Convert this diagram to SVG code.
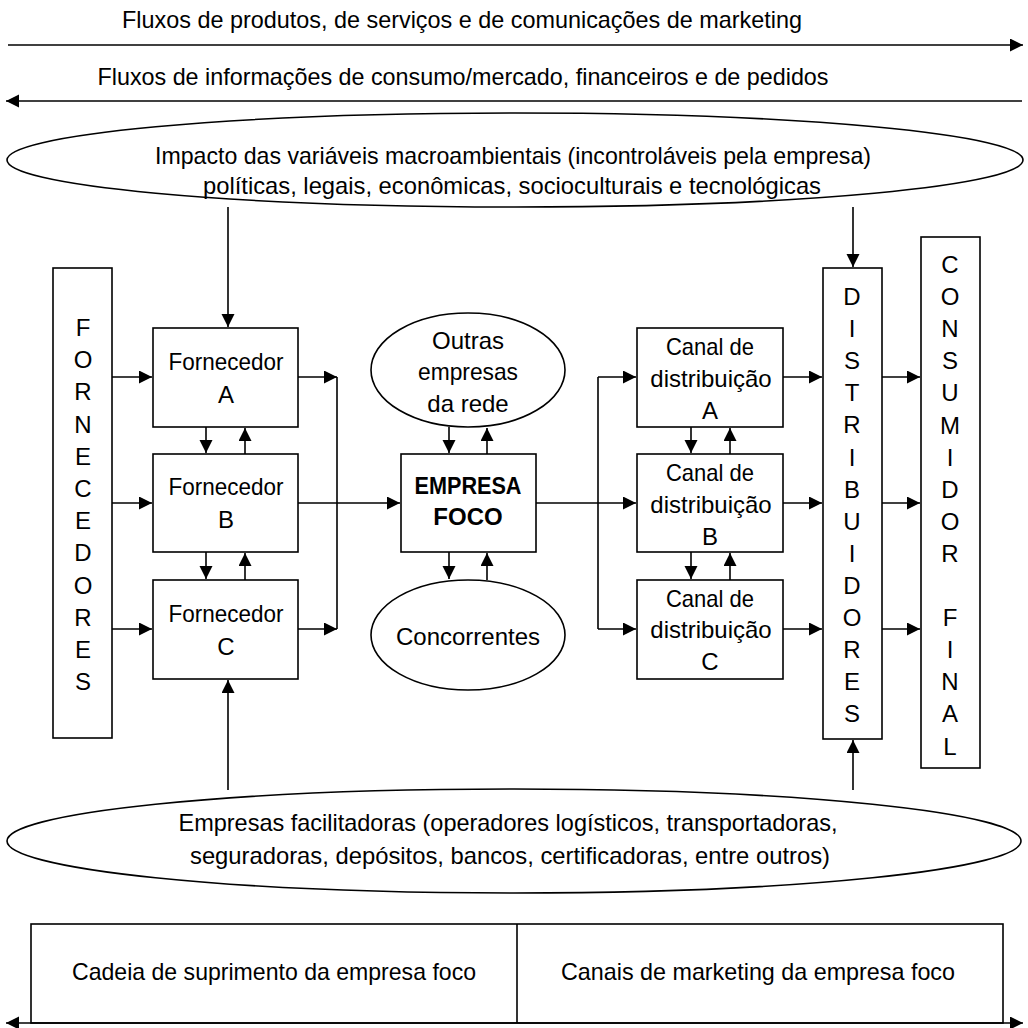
<svg xmlns="http://www.w3.org/2000/svg" width="1028" height="1028" viewBox="0 0 1028 1028">
  <style>
    text { font-family: "Liberation Sans", Arial, sans-serif; font-size: 24px; fill: #000; text-anchor: middle; }
    .bold { font-weight: bold; }
    .shape { fill: #fff; stroke: #000; stroke-width: 1.6; }
    .link { fill: none; stroke: #000; stroke-width: 1.6; }
    .arrow { fill: none; stroke: #000; stroke-width: 1.6; marker-end: url(#head); }
    .both { fill: none; stroke: #000; stroke-width: 1.6; marker-start: url(#head); marker-end: url(#head); }
  </style>
  <defs>
    <marker id="head" markerUnits="userSpaceOnUse" markerWidth="14" markerHeight="14" refX="13" refY="6.5" orient="auto-start-reverse">
      <path d="M0,0 L13,6.5 L0,13 Z" fill="#000"/>
    </marker>
  </defs>
  <rect width="1028" height="1028" fill="#fff"/>

  <!-- flow labels -->
  <g id="flow-products">
    <text x="462" y="28" textLength="680" lengthAdjust="spacingAndGlyphs">Fluxos de produtos, de serviços e de comunicações de marketing</text>
  </g>
  <g id="flow-information">
    <text x="463" y="85" textLength="731" lengthAdjust="spacingAndGlyphs">Fluxos de informações de consumo/mercado, financeiros e de pedidos</text>
  </g>

  <!-- macro-environment -->
  <g id="macro">
    <ellipse class="shape" cx="515" cy="160" rx="508" ry="47"/>
    <text x="513" y="164" textLength="716" lengthAdjust="spacingAndGlyphs">Impacto das variáveis macroambientais (incontroláveis pela empresa)</text>
    <text x="512" y="194" textLength="618" lengthAdjust="spacingAndGlyphs">políticas, legais, econômicas, socioculturais e tecnológicas</text>
  </g>

  <!-- suppliers column -->
  <g id="fornecedores">
    <rect class="shape" x="53" y="268" width="59" height="470"/>
    <text x="83" y="336">F<tspan x="83" dy="32.2">O</tspan><tspan x="83" dy="32.2">R</tspan><tspan x="83" dy="32.2">N</tspan><tspan x="83" dy="32.2">E</tspan><tspan x="83" dy="32.2">C</tspan><tspan x="83" dy="32.2">E</tspan><tspan x="83" dy="32.2">D</tspan><tspan x="83" dy="32.2">O</tspan><tspan x="83" dy="32.2">R</tspan><tspan x="83" dy="32.2">E</tspan><tspan x="83" dy="32.2">S</tspan></text>
  </g>

  <g id="fornecedor-a">
    <rect class="shape" x="153" y="328" width="145" height="99"/>
    <text x="226" y="370" textLength="115" lengthAdjust="spacingAndGlyphs">Fornecedor</text>
    <text x="226" y="403">A</text>
  </g>
  <g id="fornecedor-b">
    <rect class="shape" x="153" y="454" width="145" height="98"/>
    <text x="226" y="495" textLength="115" lengthAdjust="spacingAndGlyphs">Fornecedor</text>
    <text x="226" y="528">B</text>
  </g>
  <g id="fornecedor-c">
    <rect class="shape" x="153" y="580" width="145" height="99"/>
    <text x="226" y="622" textLength="115" lengthAdjust="spacingAndGlyphs">Fornecedor</text>
    <text x="226" y="655">C</text>
  </g>

  <!-- focal company and its neighbours -->
  <g id="outras-empresas">
    <ellipse class="shape" cx="468" cy="370" rx="97" ry="57"/>
    <text x="468" y="349">Outras</text>
    <text x="468" y="380" textLength="100" lengthAdjust="spacingAndGlyphs">empresas</text>
    <text x="468" y="412">da rede</text>
  </g>
  <g id="empresa-foco">
    <rect class="shape" x="401" y="454" width="135" height="98"/>
    <text class="bold" x="468" y="494" textLength="107" lengthAdjust="spacingAndGlyphs">EMPRESA</text>
    <text class="bold" x="468" y="525">FOCO</text>
  </g>
  <g id="concorrentes">
    <ellipse class="shape" cx="468" cy="635" rx="97" ry="55"/>
    <text x="468" y="645">Concorrentes</text>
  </g>

  <!-- distribution channels -->
  <g id="canal-a">
    <rect class="shape" x="637" y="328" width="146" height="99"/>
    <text x="710" y="355" textLength="88" lengthAdjust="spacingAndGlyphs">Canal de</text>
    <text x="711" y="387">distribuição</text>
    <text x="710" y="419">A</text>
  </g>
  <g id="canal-b">
    <rect class="shape" x="637" y="454" width="146" height="98"/>
    <text x="710" y="481" textLength="88" lengthAdjust="spacingAndGlyphs">Canal de</text>
    <text x="711" y="513">distribuição</text>
    <text x="710" y="545">B</text>
  </g>
  <g id="canal-c">
    <rect class="shape" x="637" y="580" width="146" height="99"/>
    <text x="710" y="607" textLength="88" lengthAdjust="spacingAndGlyphs">Canal de</text>
    <text x="711" y="638">distribuição</text>
    <text x="710" y="670">C</text>
  </g>

  <g id="distribuidores">
    <rect class="shape" x="823" y="268" width="59" height="471"/>
    <text x="852" y="305">D<tspan x="852" dy="32.1">I</tspan><tspan x="852" dy="32.1">S</tspan><tspan x="852" dy="32.1">T</tspan><tspan x="852" dy="32.1">R</tspan><tspan x="852" dy="32.1">I</tspan><tspan x="852" dy="32.1">B</tspan><tspan x="852" dy="32.1">U</tspan><tspan x="852" dy="32.1">I</tspan><tspan x="852" dy="32.1">D</tspan><tspan x="852" dy="32.1">O</tspan><tspan x="852" dy="32.1">R</tspan><tspan x="852" dy="32.1">E</tspan><tspan x="852" dy="32.1">S</tspan></text>
  </g>

  <g id="consumidor-final">
    <rect class="shape" x="921" y="237" width="59" height="531"/>
    <text x="950" y="273">C<tspan x="950" dy="32.1">O</tspan><tspan x="950" dy="32.1">N</tspan><tspan x="950" dy="32.1">S</tspan><tspan x="950" dy="32.1">U</tspan><tspan x="950" dy="32.1">M</tspan><tspan x="950" dy="32.1">I</tspan><tspan x="950" dy="32.1">D</tspan><tspan x="950" dy="32.1">O</tspan><tspan x="950" dy="32.1">R</tspan><tspan x="950" dy="64.2">F</tspan><tspan x="950" dy="32.1">I</tspan><tspan x="950" dy="32.1">N</tspan><tspan x="950" dy="32.1">A</tspan><tspan x="950" dy="32.1">L</tspan></text>
  </g>

  <!-- facilitating companies -->
  <g id="facilitadoras">
    <ellipse class="shape" cx="514" cy="841" rx="507" ry="52"/>
    <text x="508" y="831" textLength="659" lengthAdjust="spacingAndGlyphs">Empresas facilitadoras (operadores logísticos, transportadoras,</text>
    <text x="510" y="864" textLength="640" lengthAdjust="spacingAndGlyphs">seguradoras, depósitos, bancos, certificadoras, entre outros)</text>
  </g>

  <!-- scope bar -->
  <g id="escopo">
    <rect class="shape" x="31" y="924" width="972" height="99"/>
    <line class="link" x1="517" y1="924" x2="517" y2="1023"/>
    <text x="274" y="980" textLength="404" lengthAdjust="spacingAndGlyphs">Cadeia de suprimento da empresa foco</text>
    <text x="758" y="980" textLength="394" lengthAdjust="spacingAndGlyphs">Canais de marketing da empresa foco</text>
  </g>

  <g id="connectors">
    <line class="arrow" x1="8" y1="45" x2="1023" y2="45"/>
    <line class="arrow" x1="1022" y1="101" x2="6" y2="101"/>
    <line class="both" x1="6" y1="1023" x2="1023" y2="1023"/>

    <line class="arrow" x1="228" y1="207" x2="228" y2="327"/>
    <line class="arrow" x1="853" y1="207" x2="853" y2="267"/>
    <line class="arrow" x1="228" y1="790" x2="228" y2="680"/>
    <line class="arrow" x1="853" y1="790" x2="853" y2="740"/>

    <line class="arrow" x1="112" y1="377" x2="152" y2="377"/>
    <line class="arrow" x1="112" y1="503" x2="152" y2="503"/>
    <line class="arrow" x1="112" y1="629" x2="152" y2="629"/>

    <line class="arrow" x1="206" y1="427" x2="206" y2="453"/>
    <line class="arrow" x1="245" y1="454" x2="245" y2="428"/>
    <line class="arrow" x1="206" y1="552" x2="206" y2="579"/>
    <line class="arrow" x1="245" y1="580" x2="245" y2="553"/>

    <line class="arrow" x1="298" y1="377" x2="337" y2="377"/>
    <line class="arrow" x1="298" y1="629" x2="337" y2="629"/>
    <line class="link" x1="337" y1="377" x2="337" y2="629"/>
    <line class="arrow" x1="298" y1="503" x2="400" y2="503"/>

    <line class="arrow" x1="449" y1="427" x2="449" y2="453"/>
    <line class="arrow" x1="487" y1="454" x2="487" y2="428"/>
    <line class="arrow" x1="449" y1="552" x2="449" y2="579"/>
    <line class="arrow" x1="487" y1="580" x2="487" y2="553"/>

    <line class="link" x1="536" y1="503" x2="598" y2="503"/>
    <line class="link" x1="598" y1="377" x2="598" y2="629"/>
    <line class="arrow" x1="598" y1="377" x2="636" y2="377"/>
    <line class="arrow" x1="598" y1="503" x2="636" y2="503"/>
    <line class="arrow" x1="598" y1="629" x2="636" y2="629"/>

    <line class="arrow" x1="691" y1="427" x2="691" y2="453"/>
    <line class="arrow" x1="730" y1="454" x2="730" y2="428"/>
    <line class="arrow" x1="691" y1="552" x2="691" y2="579"/>
    <line class="arrow" x1="730" y1="580" x2="730" y2="553"/>

    <line class="arrow" x1="783" y1="377" x2="822" y2="377"/>
    <line class="arrow" x1="783" y1="503" x2="822" y2="503"/>
    <line class="arrow" x1="783" y1="629" x2="822" y2="629"/>

    <line class="arrow" x1="882" y1="377" x2="920" y2="377"/>
    <line class="arrow" x1="882" y1="503" x2="920" y2="503"/>
    <line class="arrow" x1="882" y1="629" x2="920" y2="629"/>
  </g>
</svg>
